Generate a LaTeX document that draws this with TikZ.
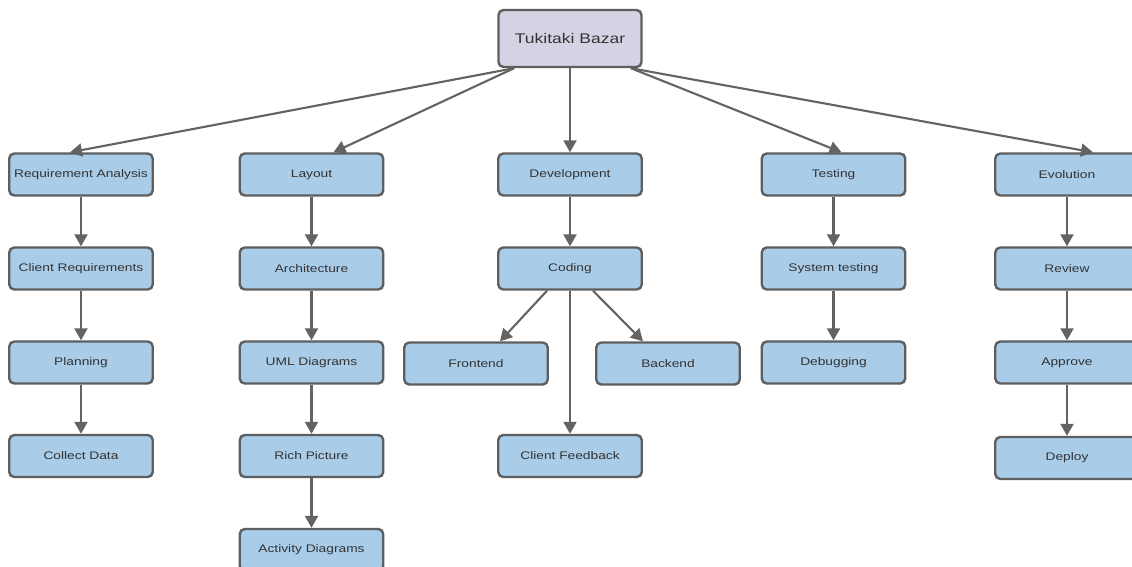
\documentclass[tikz,border=0pt]{standalone}
\usepackage{fontspec}
\setmainfont{Liberation Sans}[FakeStretch=1.25]
\usetikzlibrary{arrows.meta}
\definecolor{boxblue}{HTML}{A9CCE9}
\definecolor{titlegrey}{HTML}{D5D3E3}
\definecolor{edgegrey}{HTML}{5E5E5E}
\definecolor{linegrey}{HTML}{636363}
\definecolor{textgrey}{HTML}{333333}

\begin{document}
\begin{tikzpicture}[x=1pt, y=-1pt,
  every node/.style={rectangle, rounded corners=5pt, draw=edgegrey, line width=2.4pt, fill=boxblue, minimum width=143.5pt, minimum height=42pt, inner sep=0pt, text=textgrey, font=\fontsize{11}{13}\selectfont},
  title/.style={fill=titlegrey, minimum width=143pt, minimum height=57pt, font=\fontsize{14}{16}\selectfont},
  link/.style={draw=linegrey, line width=2.1pt, -{Triangle[length=12pt,width=13pt]}}]
  \useasboundingbox (0,0) rectangle (1132,566);
  \node[title] (top) at (570,38.5) {Tukitaki Bazar};
  \node (ra) at (81,174.5) {Requirement Analysis};
  \node (cr) at (81,268.5) {Client Requirements};
  \node (pl) at (81,362.5) {Planning};
  \node (cd) at (81,456) {Collect Data};
  \node (lay) at (311.5,174.5) {Layout};
  \node (arch) at (311.5,268.5) {Architecture};
  \node (uml) at (311.5,362.5) {UML Diagrams};
  \node (rich) at (311.5,456) {Rich Picture};
  \node (act) at (311.5,550) {Activity Diagrams};
  \node (dev) at (570,174.5) {Development};
  \node (cod) at (570,268.5) {Coding};
  \node (fe) at (476,363.5) {Frontend};
  \node (be) at (668,363.5) {Backend};
  \node (fb) at (570,456) {Client Feedback};
  \node (tst) at (833.5,174.5) {Testing};
  \node (sys) at (833.5,268.5) {System testing};
  \node (dbg) at (833.5,362.5) {Debugging};
  \node (evo) at (1067,174.5) {Evolution};
  \node (rev) at (1067,268.5) {Review};
  \node (app) at (1067,362.5) {Approve};
  \node (dep) at (1067,458) {Deploy};
  \draw[link] (top.208) -- ([xshift=-11pt]ra.north);
  \draw[link] (top.208) -- ([xshift=22pt]lay.north);
  \draw[link] (top) -- (dev);
  \draw[link] (top.334) -- ([xshift=8pt]tst.north);
  \draw[link] (top.334) -- ([xshift=26pt]evo.north);
  \draw[link] (ra) -- (cr);
  \draw[link] (cr) -- (pl);
  \draw[link] (pl) -- (cd);
  \draw[link] (lay) -- (arch);
  \draw[link] (arch) -- (uml);
  \draw[link] (uml) -- (rich);
  \draw[link] (rich) -- (act);
  \draw[link] (dev) -- (cod);
  \draw[link] ([xshift=-23pt]cod.south) -- ([xshift=24pt]fe.north);
  \draw[link] (cod) -- (fb);
  \draw[link] ([xshift=23pt]cod.south) -- ([xshift=-25pt]be.north);
  \draw[link] (tst) -- (sys);
  \draw[link] (sys) -- (dbg);
  \draw[link] (evo) -- (rev);
  \draw[link] (rev) -- (app);
  \draw[link] (app) -- (dep);
\end{tikzpicture}
\end{document}
